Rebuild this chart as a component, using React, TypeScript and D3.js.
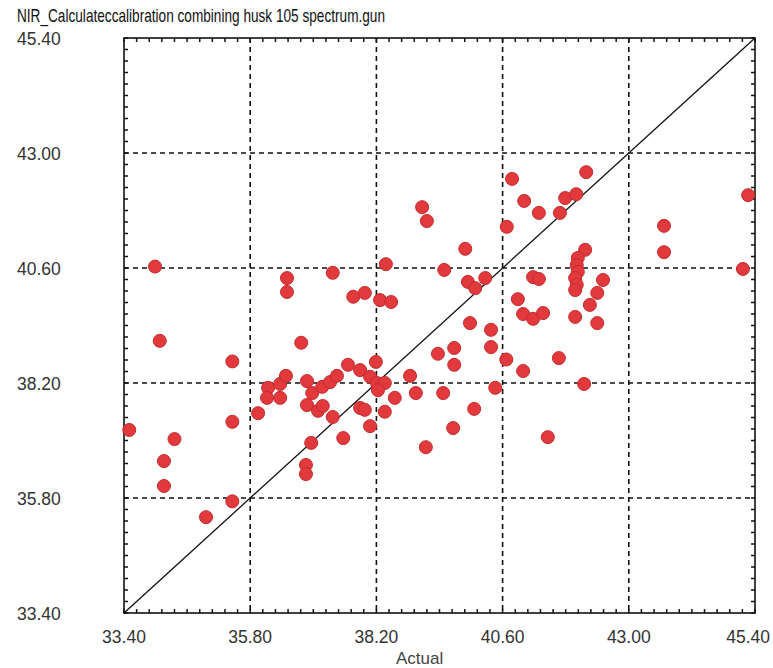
import React from "react";
import * as d3 from "d3";

const TITLE = "NIR_Calculateccalibration combining husk 105 spectrum.gun";
const X_LABEL = "Actual";
const TICK_VALUES = [33.4, 35.8, 38.2, 40.6, 43.0, 45.4];
const TICK_LABELS = ["33.40", "35.80", "38.20", "40.60", "43.00", "45.40"];

// Actual (x) values
const actual = [
  33.50, 33.99, 34.08, 34.36, 34.16, 34.16, 34.96, 35.46, 35.46, 35.46,
  35.95, 36.14, 36.12, 36.37, 36.37, 36.48, 36.50, 36.50, 36.77, 36.88,
  36.88, 36.98, 37.09, 37.18, 37.17, 37.32, 37.45, 36.96, 36.86, 36.86,
  37.37, 37.37, 37.57, 37.66, 37.76, 37.98, 37.89, 38.08, 38.21, 38.36,
  38.23, 38.19, 38.27, 38.48, 38.38, 37.89, 37.98, 38.36, 38.08, 38.55,
  38.84, 38.95, 39.07, 39.16, 39.14, 39.37, 39.47, 39.49, 39.66, 39.68,
  39.68, 39.89, 39.94, 40.08, 40.27, 39.98, 40.06, 40.38, 40.38, 40.46,
  40.67, 40.68, 40.78, 40.89, 40.99, 40.99, 41.18, 41.37, 41.01, 41.18,
  41.29, 41.29, 41.46, 41.67, 41.69, 41.79, 42.00, 41.98, 42.15, 42.19,
  42.17, 42.03, 42.01, 42.03, 41.98, 42.01, 41.98, 42.26, 42.40, 42.51,
  42.40, 43.67, 43.67, 45.17, 45.27,
];

// Calculated (y) values
const calculated = [
  37.22, 40.63, 39.08, 37.03, 36.57, 36.05, 35.40, 38.65, 37.39, 35.73,
  37.57, 38.10, 37.89, 37.89, 38.18, 38.35, 40.39, 40.10, 39.04, 38.24,
  37.74, 37.99, 37.62, 37.72, 38.12, 38.22, 38.35, 36.95, 36.49, 36.30,
  40.50, 37.49, 37.05, 38.58, 40.00, 40.08, 38.47, 38.33, 38.20, 38.20,
  38.05, 38.64, 39.93, 39.89, 40.68, 37.68, 37.64, 37.60, 37.30, 37.89,
  38.35, 37.99, 41.87, 41.58, 36.86, 38.81, 37.99, 40.56, 37.26, 38.93,
  38.58, 41.00, 40.31, 40.18, 40.39, 39.45, 37.66, 39.31, 38.95, 38.10,
  38.69, 41.46, 42.46, 39.95, 38.45, 39.64, 39.54, 39.66, 42.00, 40.41,
  40.37, 41.75, 37.07, 38.72, 41.75, 42.06, 42.14, 39.58, 38.18, 42.60,
  40.98, 40.81, 40.66, 40.52, 40.39, 40.25, 40.14, 39.83, 40.08, 40.35,
  39.45, 41.48, 40.93, 40.58, 42.12,
];

const W = 773;
const H = 668;
const FONT = "'Liberation Sans Narrow', 'Arial Narrow', 'Liberation Sans', Arial, sans-serif";

export default function App() {
  const x = d3.scaleLinear().domain([33.4, 45.4]).range([124, 755]);
  const y = d3.scaleLinear().domain([33.4, 45.4]).range([613, 38]);
  const [x0, x1] = x.range();
  const [y0, y1] = y.range();
  const minor = d3.range(0, 51).map((i) => 33.4 + i * 0.24);
  const inner = TICK_VALUES.slice(1, -1);
  const tl = 4;
  const pts = actual.map((a, i) => [a, calculated[i]]);
  const diag = d3.line<number>().x((v) => x(v)).y((v) => y(v))([33.4, 45.4]) || "";
  const fs = 17.5;

  return (
    <svg width={W} height={H} style={{ position: "absolute", left: 0, top: 0, background: "#fff" }}>
      <rect x={0} y={0} width={W} height={H} fill="#fff" />
      {/* grid */}
      {inner.map((v) => (
        <line key={"gx" + v} x1={x(v)} x2={x(v)} y1={y1} y2={y0} stroke="#111" strokeWidth={1.6} strokeDasharray="5 4" />
      ))}
      {inner.map((v) => (
        <line key={"gy" + v} x1={x0} x2={x1} y1={y(v)} y2={y(v)} stroke="#111" strokeWidth={1.6} strokeDasharray="5 4" />
      ))}
      {/* minor ticks inward */}
      {minor.map((v, i) => (
        <g key={"t" + i} stroke="#111" strokeWidth={1.5}>
          <line x1={x(v)} x2={x(v)} y1={y0} y2={y0 - tl} />
          <line x1={x(v)} x2={x(v)} y1={y1} y2={y1 + tl} />
          <line x1={x0} x2={x0 + tl} y1={y(v)} y2={y(v)} />
          <line x1={x1} x2={x1 - tl} y1={y(v)} y2={y(v)} />
        </g>
      ))}
      {/* frame */}
      <rect x={x0} y={y1} width={x1 - x0} height={y0 - y1} fill="none" stroke="#111" strokeWidth={1.6} />
      {/* diagonal */}
      <path d={diag} stroke="#111" strokeWidth={1.3} fill="none" />
      {/* points */}
      {pts.map((p, i) => (
        <circle key={"p" + i} cx={x(p[0])} cy={y(p[1])} r={6.5} fill="#e23a3c" stroke="#c42a30" strokeWidth={1} />
      ))}
      {/* y labels */}
      {TICK_VALUES.map((v, i) => (
        <text key={"yl" + v} x={17} y={y(v) + 6.5} fontFamily={FONT} fontSize={fs} fill="#333">
          {TICK_LABELS[i]}
        </text>
      ))}
      {/* x labels */}
      {TICK_VALUES.map((v, i) => {
        const last = i === TICK_VALUES.length - 1;
        return (
          <text key={"xl" + v} x={last ? W - 3 : x(v)} y={643} fontFamily={FONT} fontSize={fs} fill="#333"
            textAnchor={last ? "end" : "middle"}>
            {TICK_LABELS[i]}
          </text>
        );
      })}
      <text x={396} y={664} fontFamily={FONT} fontSize={17} fill="#444">
        {X_LABEL}
      </text>
      <text x={17} y={22} fontFamily={FONT} fontSize={19} fill="#111" textLength={368} lengthAdjust="spacingAndGlyphs">
        {TITLE}
      </text>
    </svg>
  );
}
